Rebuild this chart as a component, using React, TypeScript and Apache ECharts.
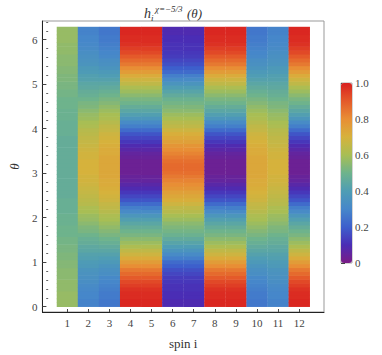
import React, { useEffect, useRef } from "react";
import * as echarts from "echarts";

// spin indices (x categories)
const spins = [1, 2, 3, 4, 5, 6, 7, 8, 9, 10, 11, 12];
const xTickValues = [1, 2, 3, 4, 5, 6, 7, 8, 9, 10, 11, 12];
const yTickValues = [0, 1, 2, 3, 4, 5, 6];
const colorbarTicks = [0, 0.2, 0.4, 0.6, 0.8, 1.0];

// number of theta rows in [0, 2π]
const thetaRows = 72;

// values read along θ (bottom → top) for each kind of column
const profileRedEnds = [
  0.99, 0.99, 0.98, 0.98, 0.97, 0.95, 0.93, 0.9, 0.87, 0.84, 0.8, 0.76, 0.72, 0.68, 0.65, 0.61, 0.58, 0.55,
  0.52, 0.5, 0.47, 0.44, 0.41, 0.37, 0.32, 0.28, 0.23, 0.18, 0.15, 0.12, 0.09, 0.07, 0.05, 0.04, 0.03, 0.03,
  0.03, 0.03, 0.04, 0.05, 0.07, 0.09, 0.12, 0.15, 0.18, 0.23, 0.28, 0.32, 0.37, 0.41, 0.44, 0.47, 0.5, 0.52,
  0.55, 0.58, 0.61, 0.65, 0.68, 0.72, 0.76, 0.8, 0.84, 0.87, 0.9, 0.93, 0.95, 0.97, 0.98, 0.98, 0.99, 0.99,
];
const profileVioletEnds = [
  0.09, 0.09, 0.1, 0.1, 0.11, 0.11, 0.12, 0.13, 0.15, 0.17, 0.2, 0.23, 0.28, 0.32, 0.36, 0.4, 0.43, 0.46,
  0.49, 0.51, 0.53, 0.55, 0.58, 0.6, 0.63, 0.65, 0.68, 0.71, 0.73, 0.75, 0.78, 0.8, 0.82, 0.84, 0.86, 0.87,
  0.87, 0.86, 0.84, 0.82, 0.8, 0.78, 0.75, 0.73, 0.71, 0.68, 0.65, 0.63, 0.6, 0.58, 0.55, 0.53, 0.51, 0.49,
  0.46, 0.43, 0.4, 0.36, 0.32, 0.28, 0.23, 0.2, 0.17, 0.15, 0.13, 0.12, 0.11, 0.11, 0.1, 0.1, 0.09, 0.09,
];
const profileBlueOuter = [
  0.29, 0.29, 0.3, 0.3, 0.31, 0.32, 0.33, 0.34, 0.35, 0.36, 0.38, 0.39, 0.41, 0.42, 0.44, 0.45, 0.47, 0.48,
  0.5, 0.52, 0.53, 0.55, 0.57, 0.58, 0.6, 0.61, 0.63, 0.64, 0.65, 0.66, 0.67, 0.68, 0.69, 0.69, 0.7, 0.7,
  0.7, 0.7, 0.69, 0.69, 0.68, 0.67, 0.66, 0.65, 0.64, 0.63, 0.61, 0.6, 0.58, 0.57, 0.55, 0.53, 0.52, 0.5,
  0.48, 0.47, 0.45, 0.44, 0.42, 0.41, 0.39, 0.38, 0.36, 0.35, 0.34, 0.33, 0.32, 0.31, 0.3, 0.3, 0.29, 0.29,
];
const profileBlueInner = [
  0.26, 0.26, 0.27, 0.27, 0.28, 0.29, 0.3, 0.31, 0.33, 0.34, 0.36, 0.38, 0.4, 0.42, 0.44, 0.46, 0.48, 0.5,
  0.52, 0.54, 0.56, 0.58, 0.6, 0.61, 0.63, 0.65, 0.66, 0.68, 0.69, 0.7, 0.71, 0.72, 0.72, 0.73, 0.73, 0.73,
  0.73, 0.73, 0.73, 0.72, 0.72, 0.71, 0.7, 0.69, 0.68, 0.66, 0.65, 0.63, 0.61, 0.6, 0.58, 0.56, 0.54, 0.52,
  0.5, 0.48, 0.46, 0.44, 0.42, 0.4, 0.38, 0.36, 0.34, 0.33, 0.31, 0.3, 0.29, 0.28, 0.27, 0.27, 0.26, 0.26,
];
const profileGreen = [
  0.57, 0.57, 0.57, 0.57, 0.56, 0.56, 0.56, 0.55, 0.55, 0.55, 0.54, 0.54, 0.53, 0.53, 0.52, 0.52, 0.51, 0.51,
  0.5, 0.5, 0.5, 0.49, 0.49, 0.49, 0.48, 0.48, 0.48, 0.48, 0.47, 0.47, 0.47, 0.47, 0.47, 0.47, 0.47, 0.47,
  0.47, 0.47, 0.47, 0.47, 0.47, 0.47, 0.47, 0.47, 0.48, 0.48, 0.48, 0.48, 0.49, 0.49, 0.49, 0.5, 0.5, 0.5,
  0.51, 0.51, 0.52, 0.52, 0.53, 0.53, 0.54, 0.54, 0.55, 0.55, 0.55, 0.56, 0.56, 0.56, 0.57, 0.57, 0.57, 0.57,
];

// column for each spin
const spinProfiles = [
  profileGreen,
  profileBlueOuter,
  profileBlueInner,
  profileRedEnds,
  profileRedEnds,
  profileVioletEnds,
  profileVioletEnds,
  profileRedEnds,
  profileRedEnds,
  profileBlueInner,
  profileBlueOuter,
  profileRedEnds,
];

const rainbow = [
  "#7B1C86",
  "#4A2DB5",
  "#3D5FCC",
  "#4687CA",
  "#4F9DB4",
  "#6EB38C",
  "#A8BE54",
  "#D6B23C",
  "#E88E35",
  "#E45A2A",
  "#D92120",
];

const serif = "'Liberation Serif', 'DejaVu Serif', serif";

export default function App() {
  const ref = useRef<HTMLDivElement>(null);

  useEffect(() => {
    if (!ref.current) return;
    const chart = echarts.init(ref.current, null, { renderer: "svg" });
    const step = (2 * Math.PI) / thetaRows;
    const data: number[][] = [];
    spins.forEach((s, i) => {
      spinProfiles[i].forEach((v, k) => {
        data.push([s, k * step, (k + 1) * step, v]);
      });
    });
    const minorTicks: number[] = [];
    for (let k = 0; k <= 32; k++) {
      if (k % 5 !== 0) minorTicks.push(Math.round(k * 20) / 100);
    }
    const labelStyle = { color: "#444", fontFamily: serif, fontSize: 11 };

    chart.setOption({
      animation: false,
      grid: [
        { left: 30, top: 21, right: 58, bottom: 39, show: true, borderColor: "#999", borderWidth: 1 },
        { left: 341, top: 83, width: 11, height: 180, show: true, borderColor: "#aaa", borderWidth: 1 },
      ],
      xAxis: [
        {
          type: "value",
          gridIndex: 0,
          min: -0.18,
          max: 13.18,
          name: "spin i",
          nameLocation: "middle",
          nameGap: 25,
          nameTextStyle: { color: "#333", fontFamily: serif, fontSize: 13 },
          axisLine: { show: true, onZero: false, lineStyle: { color: "#222", width: 1 } },
          axisTick: { show: true, inside: true, length: 3, lineStyle: { color: "#444" }, customValues: xTickValues },
          axisLabel: { ...labelStyle, margin: 5, customValues: xTickValues },
          splitLine: { show: false },
        },
        {
          type: "value",
          gridIndex: 1,
          min: 0,
          max: 1,
          show: false,
        },
      ],
      yAxis: [
        {
          type: "value",
          gridIndex: 0,
          min: -0.12,
          max: 6.42,
          name: "θ",
          nameLocation: "middle",
          nameGap: 20,
          nameRotate: 90,
          nameTextStyle: { color: "#333", fontFamily: serif, fontSize: 13, fontStyle: "italic" },
          axisLine: { show: true, onZero: false, lineStyle: { color: "#222", width: 1 } },
          axisTick: { show: true, inside: true, length: 4, lineStyle: { color: "#444" }, customValues: yTickValues },
          axisLabel: { ...labelStyle, margin: 5, customValues: yTickValues },
          splitLine: { show: false },
        },
        {
          type: "value",
          gridIndex: 0,
          min: -0.12,
          max: 6.42,
          position: "left",
          axisLine: { show: false },
          axisTick: { show: true, inside: true, length: 2, lineStyle: { color: "#666" }, customValues: minorTicks },
          axisLabel: { show: false, customValues: minorTicks },
          splitLine: { show: false },
        },
        {
          type: "value",
          gridIndex: 1,
          min: 0,
          max: 1,
          position: "right",
          axisLine: { show: false },
          axisTick: { show: true, inside: false, length: 4, lineStyle: { color: "#444" }, customValues: colorbarTicks },
          axisLabel: {
            ...labelStyle,
            margin: 3,
            customValues: colorbarTicks,
            formatter: (v: number) => (v === 0 ? "0" : v.toFixed(1)),
          },
          splitLine: { show: false },
        },
      ],
      visualMap: {
        type: "continuous",
        min: 0,
        max: 1,
        dimension: 3,
        seriesIndex: 0,
        orient: "vertical",
        left: 341,
        top: 83,
        itemWidth: 11,
        itemHeight: 180,
        padding: 0,
        calculable: false,
        hoverLink: false,
        text: ["", ""],
        showLabel: false,
        inRange: { color: rainbow },
      },
      graphic: [
        { type: "text", left: 144, top: 6, style: { text: "h", font: `italic 14px ${serif}`, fill: "#333" } },
        { type: "text", left: 151, top: 13, style: { text: "i", font: `italic 9px ${serif}`, fill: "#333" } },
        { type: "text", left: 155, top: 4, style: { text: "χ=−5/3", font: `italic 9px ${serif}`, fill: "#333" } },
        { type: "text", left: 187, top: 7, style: { text: "(θ)", font: `italic 13px ${serif}`, fill: "#333" } },
      ],
      series: [
        {
          type: "custom",
          xAxisIndex: 0,
          yAxisIndex: 0,
          encode: { x: [0], y: [1, 2] },
          data,
          renderItem: (params: any, api: any) => {
            const x = api.value(0);
            const y0 = api.value(1);
            const y1 = api.value(2);
            const p0 = api.coord([x - 0.5, y1]);
            const p1 = api.coord([x + 0.5, y0]);
            return {
              type: "rect",
              shape: { x: p0[0], y: p0[1] - 0.3, width: p1[0] - p0[0] + 0.3, height: p1[1] - p0[1] + 0.6 },
              style: { fill: api.visual("color") },
            };
          },
        },
      ],
    });
    return () => chart.dispose();
  }, []);

  return (
    <div
      ref={ref}
      style={{ position: "absolute", left: 0, top: 0, width: 382, height: 355, background: "#fff" }}
    />
  );
}
